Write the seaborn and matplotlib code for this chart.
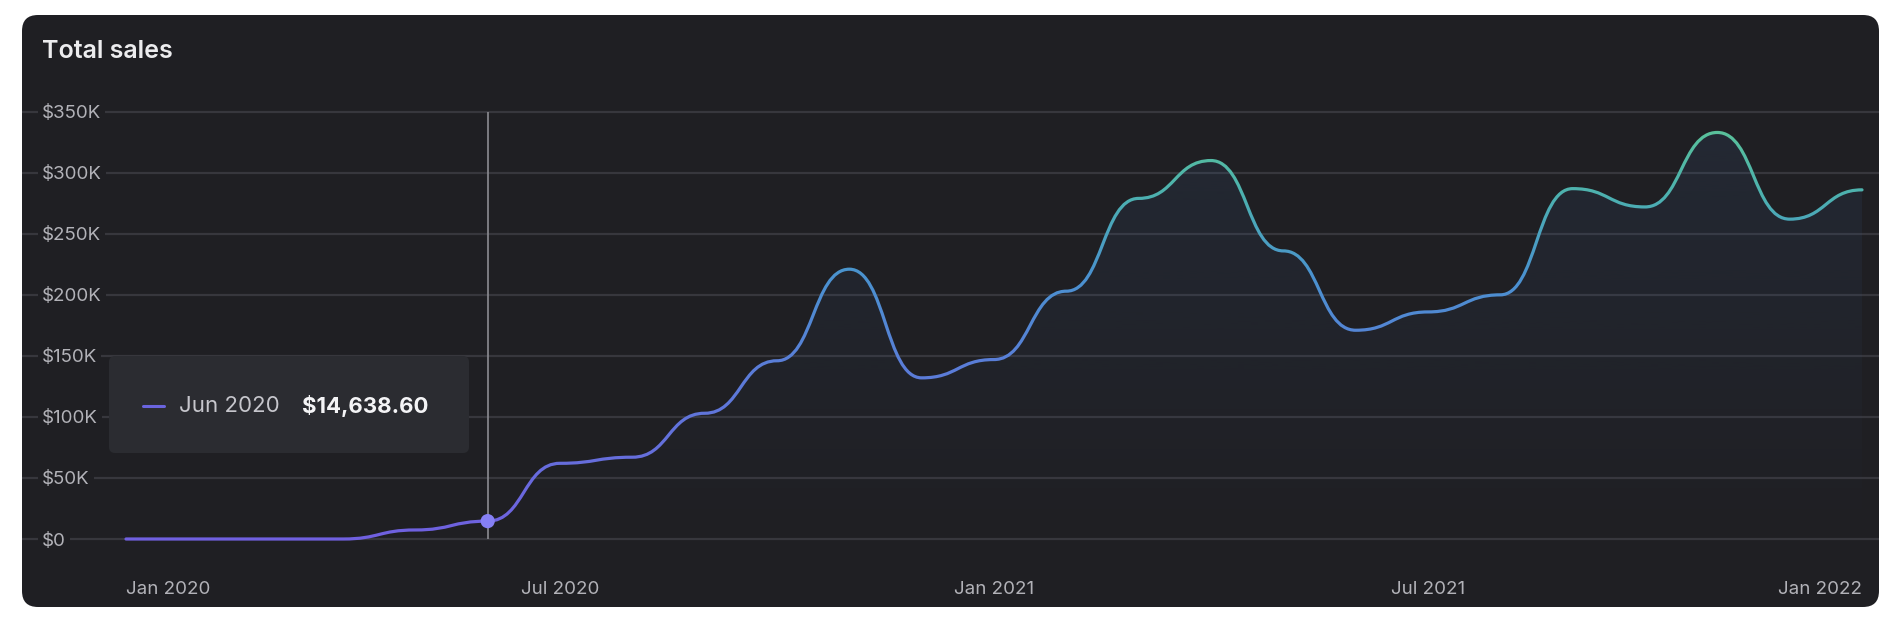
import numpy as np
import matplotlib
matplotlib.use('Agg')
import matplotlib.pyplot as plt
import seaborn as sns
from matplotlib.path import Path
from matplotlib.patches import PathPatch, FancyBboxPatch, Rectangle
from matplotlib.colors import LinearSegmentedColormap, Normalize, to_rgb
from matplotlib.lines import Line2D

# monthly totals
months = ['Jan 2020', 'Feb 2020', 'Mar 2020', 'Apr 2020', 'May 2020', 'Jun 2020',
          'Jul 2020', 'Aug 2020', 'Sep 2020', 'Oct 2020', 'Nov 2020', 'Dec 2020',
          'Jan 2021', 'Feb 2021', 'Mar 2021', 'Apr 2021', 'May 2021', 'Jun 2021',
          'Jul 2021', 'Aug 2021', 'Sep 2021', 'Oct 2021', 'Nov 2021', 'Dec 2021',
          'Jan 2022']
sales = [0, 0, 0, 0, 7400, 14638.60,
         62000, 67000, 103000, 146000, 221000, 132000,
         147000, 203000, 279000, 310000, 236000, 171000,
         186000, 200000, 287000, 272000, 333000, 262000,
         286000]
tick_months = ['Jan 2020', 'Jul 2020', 'Jan 2021', 'Jul 2021', 'Jan 2022']
y_ticks = [0, 50000, 100000, 150000, 200000, 250000, 300000, 350000]
y_labels = ['$0', '$50K', '$100K', '$150K', '$200K', '$250K', '$300K', '$350K']
hover_month = 'Jun 2020'
hover_text = '$14,638.60'

CARD = '#1f1f23'
GRID = '#37373d'
TICK = '#b2b2b8'

sns.set_style('dark', {'axes.facecolor': 'none', 'grid.color': GRID})
plt.rcParams['font.family'] = ['Inter', 'DejaVu Sans']

W, H = 1894, 626
fig = plt.figure(figsize=(W / 100, H / 100), dpi=100, facecolor='white')

# card background
card = FancyBboxPatch((22 / 100, (H - 607) / 100), 1857 / 100, 592 / 100,
                      boxstyle='round,pad=0,rounding_size=0.16',
                      transform=fig.dpi_scale_trans, facecolor=CARD,
                      edgecolor='none', zorder=-1)
fig.add_artist(card)

ax = fig.add_axes([22 / W, (H - 560) / H, 1857 / W, 460 / H])
ax.set_facecolor('none')
for s in ax.spines.values():
    s.set_visible(False)

x = np.arange(len(months), dtype=float)
y = np.asarray(sales, dtype=float)


def bump_x(xs, ys):
    # like d3.curveBumpX: flat tangent at every point, bezier between them
    verts = [(xs[0], ys[0])]
    codes = [Path.MOVETO]
    for i in range(len(xs) - 1):
        mx = (xs[i] + xs[i + 1]) / 2
        verts += [(mx, ys[i]), (mx, ys[i + 1]), (xs[i + 1], ys[i + 1])]
        codes += [Path.CURVE4] * 3
    return verts, codes


verts, codes = bump_x(x, y)
curve = Path(verts, codes)

# faint fill under the curve, fading downwards
area = Path(verts + [(x[-1], 0), (x[0], 0), (x[0], 0)],
            codes + [Path.LINETO, Path.LINETO, Path.CLOSEPOLY])
grad = np.zeros((256, 1, 4))
grad[..., :3] = to_rgb('#3d5c8c')
grad[:, 0, 3] = np.linspace(0.16, 0.0, 256)
im = ax.imshow(grad, extent=[x[0], x[-1], 0, max(sales)], aspect='auto',
               origin='upper', zorder=2)
im.set_clip_path(PathPatch(area, transform=ax.transData))

# line coloured by value: purple -> blue -> green
cmap = LinearSegmentedColormap.from_list(
    'sales', [(0.0, '#7060e0'), (0.4, '#5a7dd8'), (0.62, '#4a92cf'),
              (0.8, '#4cb0b0'), (1.0, '#5cc595')])
norm = Normalize(0, 350000)
bands = np.linspace(-20000, 360000, 96)
for lo, hi in zip(bands[:-1], bands[1:]):
    seg = PathPatch(curve, facecolor='none', edgecolor=cmap(norm((lo + hi) / 2)),
                    lw=2.3, capstyle='round', joinstyle='round', zorder=3)
    ax.add_patch(seg)
    seg.set_clip_path(Rectangle((-5, lo), 40, hi - lo, transform=ax.transData))

# hover marker
hi_idx = months.index(hover_month)
ax.vlines(hi_idx, 0, y_ticks[-1], color='#8c8c92', lw=1.2, zorder=2.5)
sns.scatterplot(x=[x[hi_idx]], y=[y[hi_idx]], color='#8680f4', s=105,
                edgecolor='none', zorder=5, ax=ax, legend=False)

ax.set_xlim(-104 / 72.33, 24 + 17 / 72.33)
ax.set_ylim(-17200, 359600)

ax.set_yticks(y_ticks)
ax.set_yticklabels(y_labels)
ax.tick_params(axis='y', length=0, pad=-14.4, labelsize=13.5, labelcolor=TICK)
for lbl in ax.get_yticklabels():
    lbl.set_horizontalalignment('left')
    lbl.set_bbox(dict(facecolor=CARD, edgecolor='none', pad=3))
ax.yaxis.grid(True, color=GRID, lw=1.6)
ax.xaxis.grid(False)

ax.set_xticks([months.index(m) for m in tick_months])
ax.set_xticklabels(tick_months)
ax.tick_params(axis='x', length=0, pad=15, labelsize=13.5, labelcolor=TICK)
xl = ax.get_xticklabels()
xl[0].set_horizontalalignment('left')
xl[-1].set_horizontalalignment('right')
ax.set_xlabel('')
ax.set_ylabel('')

fig.text(42 / W, 1 - 51 / H, 'Total sales', color='#ececee', fontsize=18,
         fontweight='semibold', va='center', ha='left')

# tooltip
tip = FancyBboxPatch((109 / 100, (H - 453) / 100), 360 / 100, 97 / 100,
                     boxstyle='round,pad=0,rounding_size=0.06',
                     transform=fig.dpi_scale_trans, facecolor='#2b2c31',
                     edgecolor='none', zorder=5)
fig.add_artist(tip)
fig.add_artist(Line2D([143 / W, 164 / W], [1 - 406 / H, 1 - 406 / H],
                      color='#6a64de', lw=2.2, transform=fig.transFigure, zorder=6))
fig.text(179 / W, 1 - 406 / H, hover_month, color='#c6c6cc', fontsize=16,
         va='center', ha='left', zorder=6)
fig.text(302 / W, 1 - 406 / H, hover_text, color='#f4f4f6', fontsize=16,
         fontweight='bold', va='center', ha='left', zorder=6)

fig.savefig('out.png', dpi=100, facecolor='white')
